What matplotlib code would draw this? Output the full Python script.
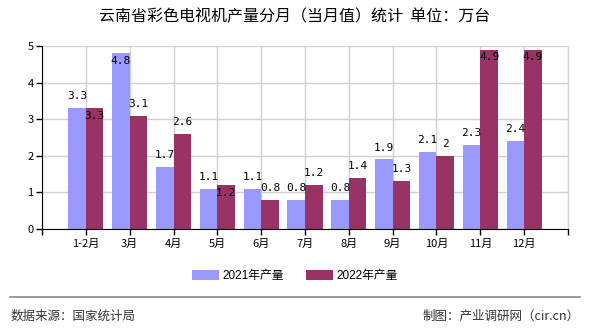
import matplotlib
matplotlib.use("Agg")
import matplotlib.pyplot as plt
import numpy as np
from matplotlib.patches import Patch

plt.rcParams['font.family'] = ['Noto Sans CJK SC', 'DejaVu Sans']

categories = ["1-2月", "3月", "4月", "5月", "6月", "7月", "8月", "9月", "10月", "11月", "12月"]
series_names = ["2021年产量", "2022年产量"]
values_2021 = [3.3, 4.8, 1.7, 1.1, 1.1, 0.8, 0.8, 1.9, 2.1, 2.3, 2.4]
values_2022 = [3.3, 3.1, 2.6, 1.2, 0.8, 1.2, 1.4, 1.3, 2.0, 4.9, 4.9]
title = "云南省彩色电视机产量分月（当月值）统计  单位：万台"
source_text = "数据来源：国家统计局"
credit_text = "制图：产业调研网（cir.cn）"

c2021 = "#9999FF"
c2022 = "#993366"

fig = plt.figure(figsize=(5.9, 3.3), dpi=100)
ax = fig.add_axes([0.0712, 0.3061, 0.8915, 0.5545])

x = np.arange(1, len(categories) + 1)
w = 0.4
ax.bar(x - w / 2, values_2021, width=w, color=c2021, zorder=2)
ax.bar(x + w / 2, values_2022, width=w, color=c2022, zorder=2)

ax.set_xlim(0, len(categories) + 1)
ax.set_ylim(0, 5)
ax.set_yticks(range(0, 6))
ax.set_xticks(list(range(0, len(categories) + 2)))
ax.set_xticklabels([""] + categories + [""])
ax.tick_params(axis='both', direction='out', length=4, width=1, labelsize=8, colors='black', pad=2)
ax.tick_params(axis='x', pad=3)
ax.grid(True, color="#D0D0D0", linewidth=1, zorder=0)
ax.set_axisbelow(True)
ax.spines["top"].set_visible(False)
ax.spines["right"].set_color("#D0D0D0")
ax.spines["left"].set_color("black")
ax.spines["bottom"].set_color("black")

def fmt(v):
    return ("%g" % v)

lab_font = dict(family="DejaVu Sans Mono", fontsize=8, color="black", zorder=5)
for i, (a, b) in enumerate(zip(values_2021, values_2022)):
    la, lb = fmt(a), fmt(b)
    if a > 4.5:
        ax.annotate(la, (x[i] - w / 2, a), xytext=(0, -2), textcoords="offset points",
                    ha="center", va="top", **lab_font)
    else:
        ax.annotate(la, (x[i] - w / 2, a), xytext=(0, 5), textcoords="offset points",
                    ha="center", va="bottom", **lab_font)
    collide = abs(a - b) < 0.25 and len(la) > 1 and len(lb) > 1
    if b > 4.5 or collide:
        ax.annotate(lb, (x[i] + w / 2, b), xytext=(0, -2), textcoords="offset points",
                    ha="center", va="top", **lab_font)
    else:
        ax.annotate(lb, (x[i] + w / 2, b), xytext=(0, 5), textcoords="offset points",
                    ha="center", va="bottom", **lab_font)

fig.text(0.5, 0.948, title, ha="center", va="center", fontsize=11.5, color="black")

handles = [Patch(facecolor=c2021), Patch(facecolor=c2022)]
fig.legend(handles, series_names, loc="center", bbox_to_anchor=(0.5, 0.163), ncol=2,
           frameon=False, handlelength=2.3, handleheight=0.9,
           columnspacing=1.8, handletextpad=0.3,
           prop={'family': ['Liberation Sans', 'Noto Sans CJK SC'], 'size': 8.5})

fig.add_artist(plt.Line2D([0.017, 0.983], [0.1, 0.1], color="#888888", linewidth=1.2,
                          transform=fig.transFigure))
fig.text(0.017, 0.042, source_text, ha="left", va="center", fontsize=9, color="#333333")
fig.text(0.983, 0.042, credit_text, ha="right", va="center", fontsize=9, color="#333333")

fig.savefig("out.png", dpi=100)
